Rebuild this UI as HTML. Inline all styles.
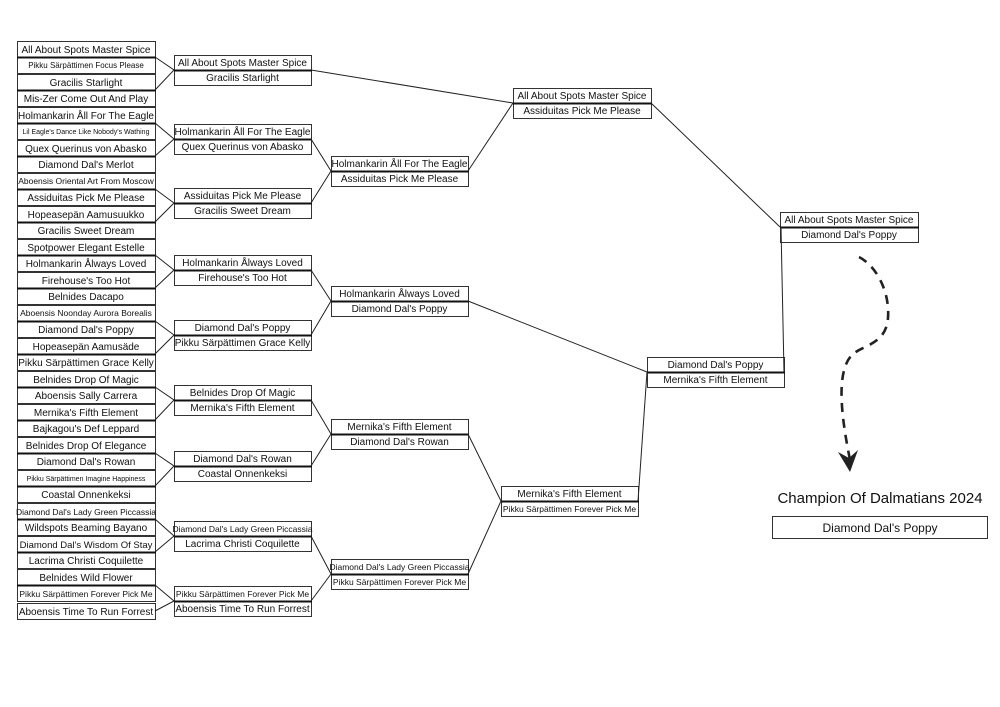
<!DOCTYPE html>
<html><head><meta charset="utf-8"><style>
html,body{margin:0;padding:0;background:#fff;}
svg{display:block;font-family:"Liberation Sans",sans-serif;}
</style></head><body>
<svg width="1000" height="707" viewBox="0 0 1000 707" xmlns="http://www.w3.org/2000/svg">
<rect width="1000" height="707" fill="#fff"/>
<g fill="#fff" stroke="#333" stroke-width="1">
<!-- left column: pairs -->
<rect x="17.5" y="41.5" width="138" height="16"/><rect x="17.5" y="57.5" width="138" height="16"/>
<rect x="17.5" y="74.5" width="138" height="16"/><rect x="17.5" y="90.5" width="138" height="16"/>
<rect x="17.5" y="107.5" width="138" height="16"/><rect x="17.5" y="123.5" width="138" height="16"/>
<rect x="17.5" y="140.5" width="138" height="16"/><rect x="17.5" y="156.5" width="138" height="16"/>
<rect x="17.5" y="173.5" width="138" height="16"/><rect x="17.5" y="189.5" width="138" height="16"/>
<rect x="17.5" y="206.5" width="138" height="16"/><rect x="17.5" y="222.5" width="138" height="16"/>
<rect x="17.5" y="239.5" width="138" height="16"/><rect x="17.5" y="255.5" width="138" height="16"/>
<rect x="17.5" y="272.5" width="138" height="16"/><rect x="17.5" y="288.5" width="138" height="16"/>
<rect x="17.5" y="305.5" width="138" height="16"/><rect x="17.5" y="321.5" width="138" height="16"/>
<rect x="17.5" y="338.5" width="138" height="16"/><rect x="17.5" y="354.5" width="138" height="16"/>
<rect x="17.5" y="371.5" width="138" height="16"/><rect x="17.5" y="387.5" width="138" height="16"/>
<rect x="17.5" y="404.5" width="138" height="16"/><rect x="17.5" y="420.5" width="138" height="16"/>
<rect x="17.5" y="437.5" width="138" height="16"/><rect x="17.5" y="453.5" width="138" height="16"/>
<rect x="17.5" y="470.5" width="138" height="16"/><rect x="17.5" y="486.5" width="138" height="16"/>
<rect x="17.5" y="503.5" width="138" height="16"/><rect x="17.5" y="519.5" width="138" height="16"/>
<rect x="17.5" y="536.5" width="138" height="16"/><rect x="17.5" y="552.5" width="138" height="16"/>
<rect x="17.5" y="569.5" width="138" height="16"/><rect x="17.5" y="585.5" width="138" height="16"/>
<rect x="17.5" y="603.5" width="138" height="16"/>
<!-- round 2 -->
<rect x="174.5" y="55.5" width="137" height="15"/><rect x="174.5" y="70.5" width="137" height="15"/>
<rect x="174.5" y="124.5" width="137" height="15"/><rect x="174.5" y="139.5" width="137" height="15"/>
<rect x="174.5" y="188.5" width="137" height="15"/><rect x="174.5" y="203.5" width="137" height="15"/>
<rect x="174.5" y="255.5" width="137" height="15"/><rect x="174.5" y="270.5" width="137" height="15"/>
<rect x="174.5" y="320.5" width="137" height="15"/><rect x="174.5" y="335.5" width="137" height="15"/>
<rect x="174.5" y="385.5" width="137" height="15"/><rect x="174.5" y="400.5" width="137" height="15"/>
<rect x="174.5" y="451.5" width="137" height="15"/><rect x="174.5" y="466.5" width="137" height="15"/>
<rect x="174.5" y="521.5" width="137" height="15"/><rect x="174.5" y="536.5" width="137" height="15"/>
<rect x="174.5" y="586.5" width="137" height="15"/><rect x="174.5" y="601.5" width="137" height="15"/>
<!-- round 3 -->
<rect x="331.5" y="156.5" width="137" height="15"/><rect x="331.5" y="171.5" width="137" height="15"/>
<rect x="331.5" y="286.5" width="137" height="15"/><rect x="331.5" y="301.5" width="137" height="15"/>
<rect x="331.5" y="419.5" width="137" height="15"/><rect x="331.5" y="434.5" width="137" height="15"/>
<rect x="331.5" y="559.5" width="137" height="15"/><rect x="331.5" y="574.5" width="137" height="15"/>
<!-- round 4 -->
<rect x="513.5" y="88.5" width="138" height="15"/><rect x="513.5" y="103.5" width="138" height="15"/>
<rect x="501.5" y="486.5" width="137" height="15"/><rect x="501.5" y="501.5" width="137" height="15"/>
<!-- round 5/6 -->
<rect x="647.5" y="357.5" width="137" height="15"/><rect x="647.5" y="372.5" width="137" height="15"/>
<rect x="780.5" y="212.5" width="138" height="15"/><rect x="780.5" y="227.5" width="138" height="15"/>
<rect x="772.5" y="516.5" width="215" height="22"/>
</g>
<g stroke="#111" stroke-width="2">
<line x1="17" y1="57.5" x2="156" y2="57.5"/><line x1="17" y1="90.5" x2="156" y2="90.5"/>
<line x1="17" y1="123.5" x2="156" y2="123.5"/><line x1="17" y1="156.5" x2="156" y2="156.5"/>
<line x1="17" y1="189.5" x2="156" y2="189.5"/><line x1="17" y1="222.5" x2="156" y2="222.5"/>
<line x1="17" y1="255.5" x2="156" y2="255.5"/><line x1="17" y1="288.5" x2="156" y2="288.5"/>
<line x1="17" y1="321.5" x2="156" y2="321.5"/><line x1="17" y1="354.5" x2="156" y2="354.5"/>
<line x1="17" y1="387.5" x2="156" y2="387.5"/><line x1="17" y1="420.5" x2="156" y2="420.5"/>
<line x1="17" y1="453.5" x2="156" y2="453.5"/><line x1="17" y1="486.5" x2="156" y2="486.5"/>
<line x1="17" y1="519.5" x2="156" y2="519.5"/><line x1="17" y1="552.5" x2="156" y2="552.5"/>
<line x1="17" y1="585.5" x2="156" y2="585.5"/>
<line x1="174" y1="70.5" x2="312" y2="70.5"/><line x1="174" y1="139.5" x2="312" y2="139.5"/>
<line x1="174" y1="203.5" x2="312" y2="203.5"/><line x1="174" y1="270.5" x2="312" y2="270.5"/>
<line x1="174" y1="335.5" x2="312" y2="335.5"/><line x1="174" y1="400.5" x2="312" y2="400.5"/>
<line x1="174" y1="466.5" x2="312" y2="466.5"/><line x1="174" y1="536.5" x2="312" y2="536.5"/>
<line x1="174" y1="601.5" x2="312" y2="601.5"/>
<line x1="331" y1="171.5" x2="469" y2="171.5"/><line x1="331" y1="301.5" x2="469" y2="301.5"/>
<line x1="331" y1="434.5" x2="469" y2="434.5"/><line x1="331" y1="574.5" x2="469" y2="574.5"/>
<line x1="513" y1="103.5" x2="652" y2="103.5"/><line x1="501" y1="501.5" x2="639" y2="501.5"/>
<line x1="647" y1="372.5" x2="785" y2="372.5"/><line x1="780" y1="227.5" x2="919" y2="227.5"/>
</g>
<g stroke="#222" stroke-width="1" fill="none">
<path d="M155,57 L174,70 L155,90"/><path d="M155,123 L174,139 L155,156"/>
<path d="M155,189 L174,203 L155,222"/><path d="M155,255 L174,270 L155,288"/>
<path d="M155,321 L174,335 L155,354"/><path d="M155,387 L174,400 L155,420"/>
<path d="M155,453 L174,466 L155,486"/><path d="M155,519 L174,536 L155,552"/>
<path d="M155,585 L174,601 L155,611"/>
<path d="M311,139 L331,171 L311,203"/><path d="M311,270 L331,301 L311,335"/>
<path d="M311,400 L331,434 L311,466"/><path d="M311,536 L331,574 L311,601"/>
<line x1="311" y1="70" x2="513" y2="103"/><line x1="468" y1="171" x2="513" y2="103"/>
<line x1="468" y1="434" x2="501" y2="501"/><line x1="468" y1="574" x2="501" y2="501"/>
<line x1="468" y1="301" x2="647" y2="372"/><line x1="638" y1="501" x2="647" y2="372"/>
<line x1="651" y1="103" x2="780" y2="227"/><line x1="784" y1="372" x2="781" y2="227"/>
</g>
<g fill="#111" text-anchor="middle" font-size="10">
<text x="86" y="53">All About Spots Master Spice</text>
<text x="86" y="68" font-size="8">Pikku Särpättimen Focus Please</text>
<text x="86" y="86">Gracilis Starlight</text>
<text x="86" y="102">Mis-Zer Come Out And Play</text>
<text x="86" y="119">Holmankarin Åll For The Eagle</text>
<text x="86" y="134" font-size="7">Lil Eagle's Dance Like Nobody's Wathing</text>
<text x="86" y="152">Quex Querinus von Abasko</text>
<text x="86" y="168">Diamond Dal's Merlot</text>
<text x="86" y="184" font-size="8.5">Aboensis Oriental Art From Moscow</text>
<text x="86" y="201">Assiduitas Pick Me Please</text>
<text x="86" y="218">Hopeasepän Aamusuukko</text>
<text x="86" y="234">Gracilis Sweet Dream</text>
<text x="86" y="251">Spotpower Elegant Estelle</text>
<text x="86" y="267">Holmankarin Ålways Loved</text>
<text x="86" y="284">Firehouse's Too Hot</text>
<text x="86" y="300">Belnides Dacapo</text>
<text x="86" y="316" font-size="8.5">Aboensis Noonday Aurora Borealis</text>
<text x="86" y="333">Diamond Dal's Poppy</text>
<text x="86" y="350">Hopeasepän Aamusäde</text>
<text x="86" y="366">Pikku Särpättimen Grace Kelly</text>
<text x="86" y="383">Belnides Drop Of Magic</text>
<text x="86" y="399">Aboensis Sally Carrera</text>
<text x="86" y="416">Mernika's Fifth Element</text>
<text x="86" y="432">Bajkagou's Def Leppard</text>
<text x="86" y="449">Belnides Drop Of Elegance</text>
<text x="86" y="465">Diamond Dal's Rowan</text>
<text x="86" y="481" font-size="7">Pikku Särpättimen Imagine Happiness</text>
<text x="86" y="498">Coastal Onnenkeksi</text>
<text x="86" y="515" font-size="8.5">Diamond Dal's Lady Green Piccassia</text>
<text x="86" y="531">Wildspots Beaming Bayano</text>
<text x="86" y="548" font-size="9.5">Diamond Dal's Wisdom Of Stay</text>
<text x="86" y="564">Lacrima Christi Coquilette</text>
<text x="86" y="581">Belnides Wild Flower</text>
<text x="86" y="597" font-size="8.5">Pikku Särpättimen Forever Pick Me</text>
<text x="86" y="615">Aboensis Time To Run Forrest</text>

<text x="242.5" y="66">All About Spots Master Spice</text>
<text x="242.5" y="81">Gracilis Starlight</text>
<text x="242.5" y="135">Holmankarin Åll For The Eagle</text>
<text x="242.5" y="150">Quex Querinus von Abasko</text>
<text x="242.5" y="199">Assiduitas Pick Me Please</text>
<text x="242.5" y="214">Gracilis Sweet Dream</text>
<text x="242.5" y="266">Holmankarin Ålways Loved</text>
<text x="242.5" y="281">Firehouse's Too Hot</text>
<text x="242.5" y="331">Diamond Dal's Poppy</text>
<text x="242.5" y="346">Pikku Särpättimen Grace Kelly</text>
<text x="242.5" y="396">Belnides Drop Of Magic</text>
<text x="242.5" y="411">Mernika's Fifth Element</text>
<text x="242.5" y="462">Diamond Dal's Rowan</text>
<text x="242.5" y="477">Coastal Onnenkeksi</text>
<text x="242.5" y="532" font-size="8.5">Diamond Dal's Lady Green Piccassia</text>
<text x="242.5" y="547">Lacrima Christi Coquilette</text>
<text x="242.5" y="597" font-size="8.5">Pikku Särpättimen Forever Pick Me</text>
<text x="242.5" y="612">Aboensis Time To Run Forrest</text>

<text x="399.5" y="167">Holmankarin Åll For The Eagle</text>
<text x="399.5" y="182">Assiduitas Pick Me Please</text>
<text x="399.5" y="297">Holmankarin Ålways Loved</text>
<text x="399.5" y="312">Diamond Dal's Poppy</text>
<text x="399.5" y="430">Mernika's Fifth Element</text>
<text x="399.5" y="445">Diamond Dal's Rowan</text>
<text x="399.5" y="570" font-size="8.5">Diamond Dal's Lady Green Piccassia</text>
<text x="399.5" y="585" font-size="8.5">Pikku Särpättimen Forever Pick Me</text>

<text x="582" y="99">All About Spots Master Spice</text>
<text x="582" y="114">Assiduitas Pick Me Please</text>
<text x="569.5" y="497">Mernika's Fifth Element</text>
<text x="569.5" y="512" font-size="8.5">Pikku Särpättimen Forever Pick Me</text>
<text x="715.5" y="368">Diamond Dal's Poppy</text>
<text x="715.5" y="383">Mernika's Fifth Element</text>
<text x="849" y="223">All About Spots Master Spice</text>
<text x="849" y="238">Diamond Dal's Poppy</text>
<text x="880" y="503" font-size="15">Champion Of Dalmatians 2024</text>
<text x="880" y="532" font-size="12">Diamond Dal's Poppy</text>
</g>
<path d="M859,257 C875,265 890,290 888,318 C886,345 862,345 852,355 C835,372 842,420 850,460" stroke="#222" stroke-width="2.6" fill="none" stroke-dasharray="9,7"/>
<path d="M838,452 L850,472 L858,450 L849,458 Z" fill="#222"/>
</svg>
</body></html>
